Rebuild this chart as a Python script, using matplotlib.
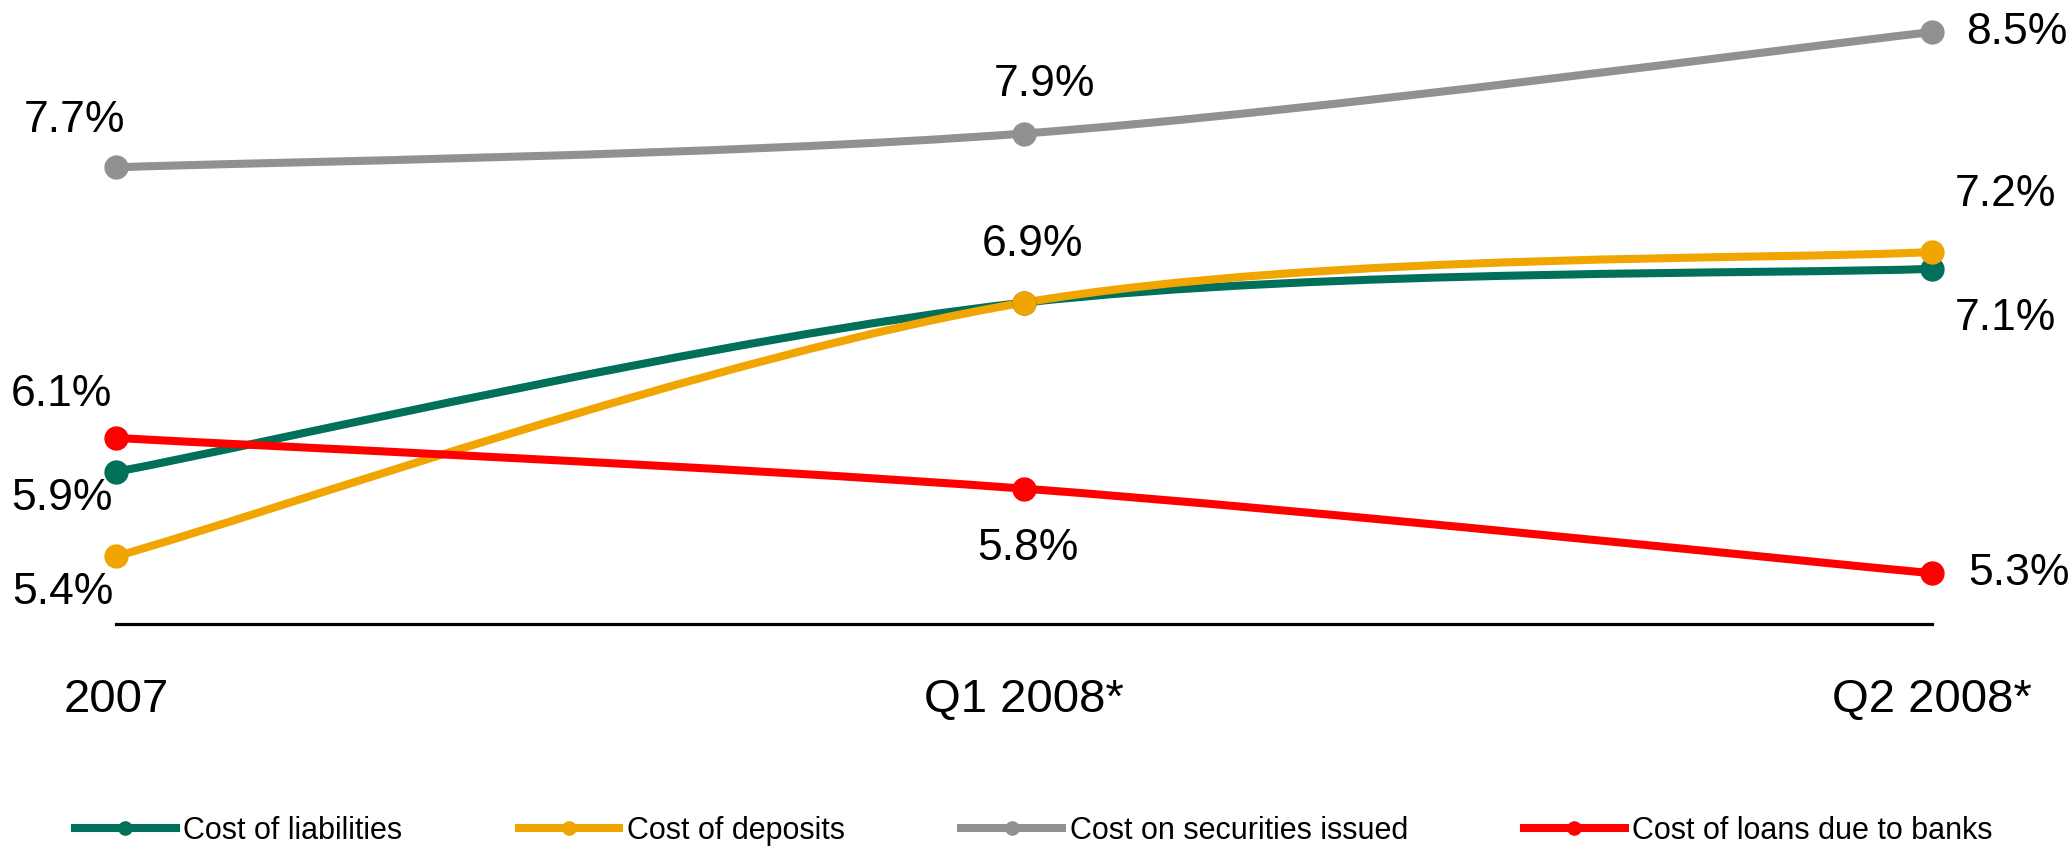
import matplotlib
matplotlib.use("Agg")
import matplotlib.pyplot as plt
from matplotlib.path import Path
from matplotlib.patches import PathPatch
from matplotlib.lines import Line2D

plt.rcParams['font.family'] = ['Liberation Sans', 'DejaVu Sans']

# Funding cost by period, %
periods = ["2007", "Q1 2008*", "Q2 2008*"]
cost_liabilities = [5.9, 6.9, 7.1]
cost_deposits = [5.4, 6.9, 7.2]
cost_securities = [7.7, 7.9, 8.5]
cost_bank_loans = [6.1, 5.8, 5.3]

series = [
    ("Cost of liabilities", cost_liabilities, "#00705A"),
    ("Cost of deposits", cost_deposits, "#F0A500"),
    ("Cost on securities issued", cost_securities, "#919191"),
    ("Cost of loans due to banks", cost_bank_loans, "#FF0000"),
]

# label offsets in points, per series and period (None = no label)
label_offsets = {
    "Cost of liabilities": [(-39, -19), None, (53, -36)],
    "Cost of deposits": [(-38, -26), (6, 42), (53, 41)],
    "Cost on securities issued": [(-30, 34), (15, 35), (61, 0)],
    "Cost of loans due to banks": [(-39, 31), (3, -43), (63, 0)],
}


def smooth_path(xs, ys):
    # Catmull-Rom style cubic Bezier through the points
    pts = list(zip(xs, ys))
    n = len(pts)
    verts = [pts[0]]
    codes = [Path.MOVETO]
    for i in range(n - 1):
        p0 = pts[i - 1] if i > 0 else pts[i]
        p1 = pts[i]
        p2 = pts[i + 1]
        p3 = pts[i + 2] if i + 2 < n else pts[i + 1]
        c1 = (p1[0] + (p2[0] - p0[0]) / 6, p1[1] + (p2[1] - p0[1]) / 6)
        c2 = (p2[0] - (p3[0] - p1[0]) / 6, p2[1] - (p3[1] - p1[1]) / 6)
        verts += [c1, c2, p2]
        codes += [Path.CURVE4] * 3
    return Path(verts, codes)


fig = plt.figure(figsize=(20.72, 8.48), dpi=100)
ax = fig.add_axes([0.056, 0.2642, 0.8764, 0.698])

x = list(range(len(periods)))
handles = []
for name, vals, color in series:
    patch = PathPatch(smooth_path(x, vals), facecolor="none", edgecolor=color,
                      lw=5.8, capstyle="butt", joinstyle="round", clip_on=False)
    ax.add_patch(patch)
    ax.plot(x, vals, "o", color=color, markersize=16.5, clip_on=False, zorder=3)
    for xi, v, off in zip(x, vals, label_offsets[name]):
        if off is None:
            continue
        ax.annotate(f"{v:.1f}%", (xi, v), xytext=off, textcoords="offset points",
                    ha="center", va="center", fontsize=32, color="black")
    handles.append(Line2D([], [], color=color, lw=5.8, marker="o",
                          markersize=9.5, label=name))

ax.set_xlim(0, 2)
ax.set_ylim(5.0, 8.5)
ax.set_xticks(x)
ax.set_xticklabels(periods, fontsize=34)
ax.set_yticks([])
ax.tick_params(axis="x", length=0, pad=39)
for side in ["top", "right", "left"]:
    ax.spines[side].set_visible(False)
ax.spines["bottom"].set_linewidth(2.3)
ax.spines["bottom"].set_color("black")

fig.legend(handles=handles, loc="center", bbox_to_anchor=(0.499, 0.02),
           ncol=4, frameon=False, fontsize=22, handlelength=3.3,
           handletextpad=0.25, columnspacing=3.8, borderpad=0.1)

fig.savefig("out.png", dpi=100)
